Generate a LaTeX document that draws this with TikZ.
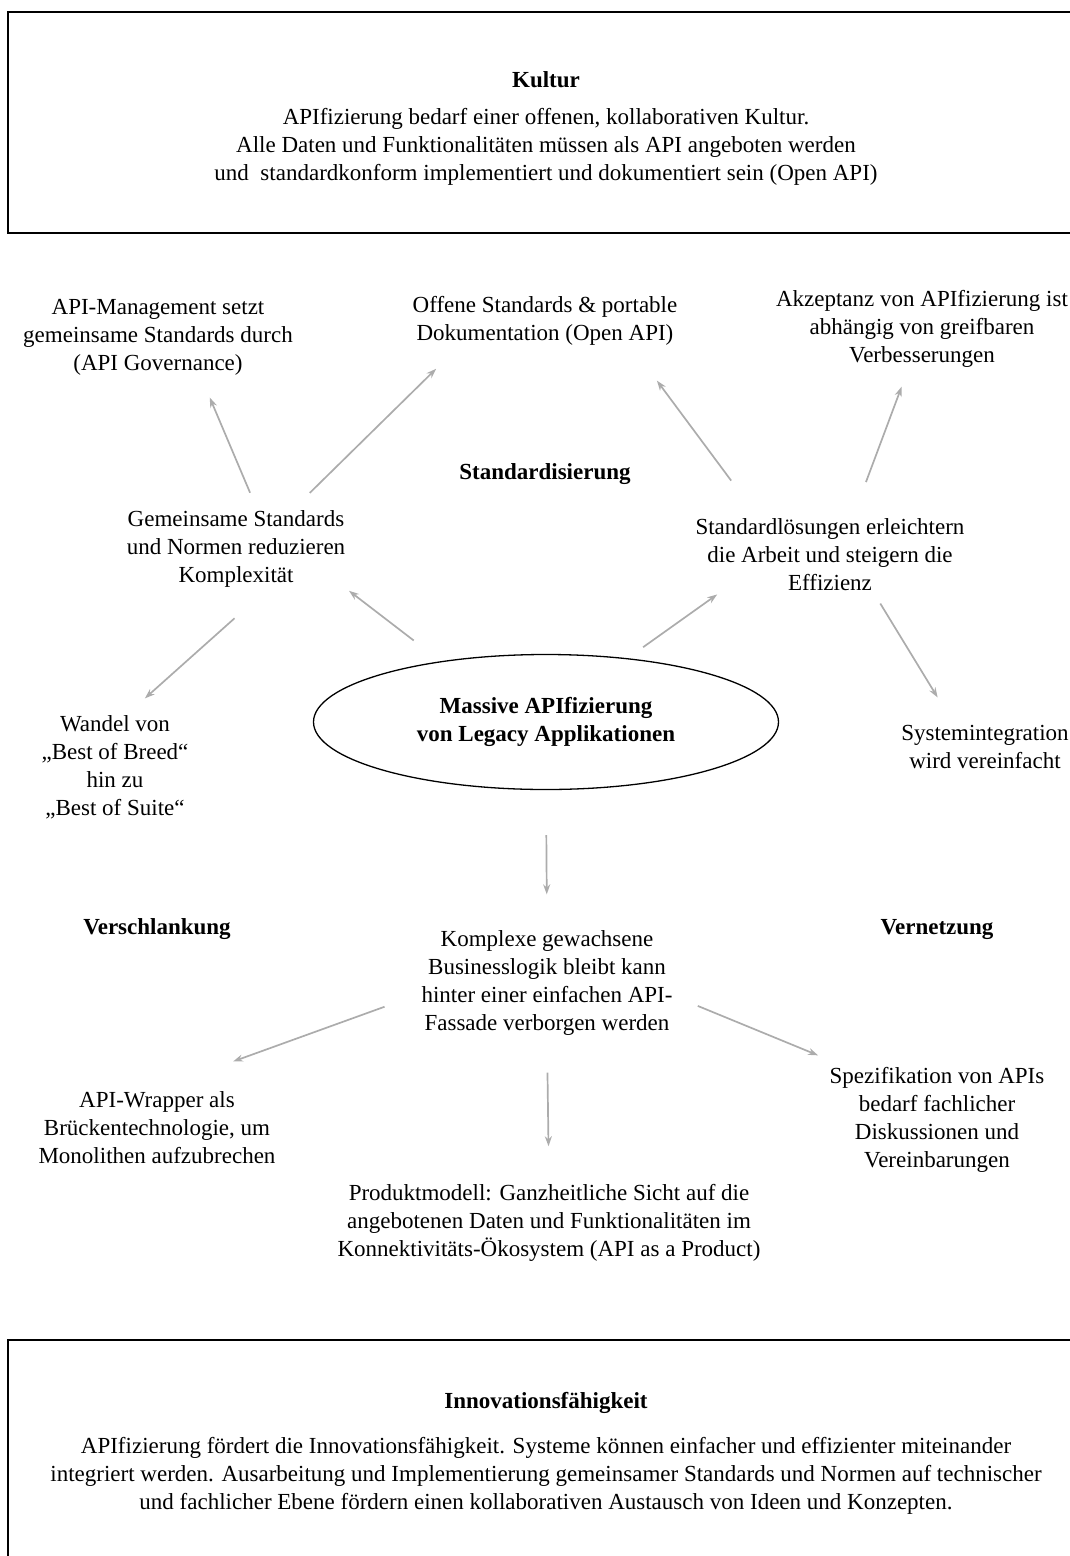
\documentclass[tikz,border=0pt]{standalone}
\usepackage{fontspec}
\setmainfont{Liberation Serif}
\usetikzlibrary{arrows.meta,shapes.geometric}

\begin{document}
\begin{tikzpicture}[x=1pt, y=-1pt,
  nd/.style={align=center, inner sep=2pt, yshift=-3pt, font=\fontsize{23}{28}\selectfont},
  hd/.style={nd, font=\fontsize{23}{28}\selectfont\bfseries},
  frame/.style={draw, line width=1.5pt},
  ell/.style={ellipse, draw, align=center, line width=1.3pt, minimum width=465pt, minimum height=135pt,
    font=\fontsize{23}{28}\selectfont\bfseries},
  arr/.style={draw=gray!65, line width=1.7pt, -{Stealth[length=10pt,width=7pt]}}]
\useasboundingbox (0,0) rectangle (1069,1556);
% frames of the two text blocks, cut at the page edge
\draw[frame] (8,12) rectangle (1084,233);
\draw[frame] (8,1340) rectangle (1084,1560);
\node[nd] (kul) at (546,125.5) {\textbf{Kultur}\\[9pt]
  APIfizierung bedarf einer offenen, kollaborativen Kultur.\\
  Alle Daten und Funktionalitäten müssen als API angeboten werden\\
  und\ \ standardkonform implementiert und dokumentiert sein (Open API)};
\node[nd] (mgmt) at (158,334) {API-Management setzt\\gemeinsame Standards durch\\(API Governance)};
\node[nd] (open) at (545,318) {Offene Standards \& portable\\Dokumentation (Open API)};
\node[nd] (akz) at (922,326) {Akzeptanz von APIfizierung ist\\abhängig von greifbaren\\Verbesserungen};
\node[hd] (std) at (545,471) {Standardisierung};
\node[nd] (gem) at (236,546) {Gemeinsame Standards\\und Normen reduzieren\\Komplexität};
\node[nd] (lsg) at (830,552) {Standardlösungen erleichtern\\die Arbeit und steigern die\\Effizienz};
\node[ell] (api) at (546,722) {Massive APIfizierung\\von Legacy Applikationen};
\node[nd] (wan) at (115,764) {Wandel von\\„Best of Breed“\\hin zu\\„Best of Suite“};
\node[nd] (sys) at (985,744) {Systemintegration\\wird vereinfacht};
\node[hd] (ver) at (157,926) {Verschlankung};
\node[hd] (net) at (937,926) {Vernetzung};
\node[nd] (kom) at (547,980) {Komplexe gewachsene\\Businesslogik bleibt kann\\hinter einer einfachen API-\\Fassade verborgen werden};
\node[nd] (wrap) at (157,1125) {API-Wrapper als\\Brückentechnologie, um\\Monolithen aufzubrechen};
\node[nd] (spez) at (937,1117) {Spezifikation von APIs\\bedarf fachlicher\\Diskussionen und\\Vereinbarungen};
\node[nd] (prod) at (549,1220) {Produktmodell: Ganzheitliche Sicht auf die\\angebotenen Daten und Funktionalitäten im\\Konnektivitäts-Ökosystem (API as a Product)};
\node[nd] (inno) at (546,1450) {\textbf{Innovationsfähigkeit}\\[17pt]
  APIfizierung fördert die Innovationsfähigkeit. Systeme können einfacher und effizienter miteinander\\
  integriert werden. Ausarbeitung und Implementierung gemeinsamer Standards und Normen auf technischer\\
  und fachlicher Ebene fördern einen kollaborativen Austausch von Ideen und Konzepten.};
\foreach \a/\b/\s/\e in {gem.63/mgmt.-43/17pt/22pt, gem.35/open.197/22pt/30pt,
  api.150/gem.-20/34pt/2pt, gem.-53/wan.76/43pt/22pt,
  api.38/lsg.199/19pt/2pt, lsg.152/open.-17/45pt/41pt,
  lsg.59/akz.-109/37pt/18pt, lsg.-41/sys.143/12pt/30pt,
  api.south/kom.north/45pt/34pt, kom.185/wrap.93/37pt/83pt,
  kom.-6/spez.150/25pt/26pt, kom.south/prod.north/35pt/36pt}{
  \draw[arr, shorten <=\s, shorten >=\e] (\a) -- (\b);}
\end{tikzpicture}
\end{document}
